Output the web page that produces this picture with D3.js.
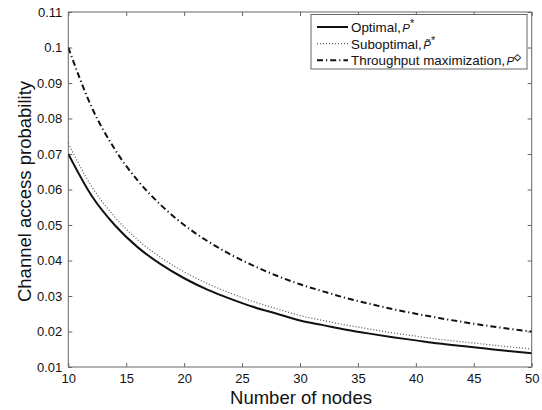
<!DOCTYPE html>
<html><head><meta charset="utf-8">
<script src="https://cdn.jsdelivr.net/npm/d3@7"></script>
<style>body{margin:0;background:#fff}svg{display:block}text{font-family:"Liberation Sans",Arial,Helvetica,sans-serif}</style>
</head><body><svg id="c" width="542" height="410"></svg>
<script>
const nodes = [10,12,14,16,18,20,22,24,26,28,30,32,34,36,38,40,42,44,46,48,50];
const optimal = [0.0700,0.0583,0.0500,0.0437,0.0389,0.0350,0.0318,0.0292,0.0269,0.0250,0.0231,0.0218,0.0205,0.0194,0.0184,0.0175,0.0166,0.0159,0.0152,0.0145,0.0139];
const suboptimal = [0.0730,0.0609,0.0523,0.0458,0.0408,0.0368,0.0335,0.0308,0.0284,0.0264,0.0245,0.0231,0.0218,0.0207,0.0196,0.0187,0.0178,0.0171,0.0164,0.0157,0.0151];
const throughput = [0.1000,0.0833,0.0714,0.0625,0.0556,0.0500,0.0455,0.0417,0.0385,0.0357,0.0333,0.0313,0.0294,0.0278,0.0263,0.0250,0.0238,0.0227,0.0217,0.0208,0.0200];
const xTicks = [10,15,20,25,30,35,40,45,50];
const yTicks = [0.01,0.02,0.03,0.04,0.05,0.06,0.07,0.08,0.09,0.1,0.11];
const xTitle = "Number of nodes";
const yTitle = "Channel access probability";

const L=68.3, R=531.7, T=12, B=367;
const svg = d3.select("#c");
const x = d3.scaleLinear().domain([10,50]).range([L,R]);
const y = d3.scaleLinear().domain([0.01,0.11]).range([B,T]);
const axisCol = "#666";
const tk = 4;

svg.append("rect").attr("x",L).attr("y",T).attr("width",R-L).attr("height",B-T)
  .attr("fill","none").attr("stroke",axisCol).attr("stroke-width",1);

const fmt = d => String(+d.toFixed(2));
const gx = svg.append("g").attr("transform",`translate(0,${B})`)
  .call(d3.axisBottom(x).tickValues(xTicks).tickSizeInner(-tk).tickSizeOuter(0).tickPadding(7).tickFormat(d3.format("d")));
const gxt = svg.append("g").attr("transform",`translate(0,${T})`)
  .call(d3.axisTop(x).tickValues(xTicks).tickSizeInner(-tk).tickSizeOuter(0).tickFormat(""));
const gy = svg.append("g").attr("transform",`translate(${L},0)`)
  .call(d3.axisLeft(y).tickValues(yTicks).tickSizeInner(-tk).tickSizeOuter(0).tickPadding(6).tickFormat(fmt));
const gyr = svg.append("g").attr("transform",`translate(${R},0)`)
  .call(d3.axisRight(y).tickValues(yTicks).tickSizeInner(-tk).tickSizeOuter(0).tickFormat(""));
[gx,gxt,gy,gyr].forEach(g=>{
  g.select(".domain").remove();
  g.selectAll(".tick line").attr("stroke",axisCol);
  g.selectAll("text").attr("fill","#111").attr("font-size","13px")
   .attr("font-family",'"Liberation Sans",Arial,sans-serif');
});

const line = d3.line().x((d,i)=>x(nodes[i])).y(d=>y(d)).curve(d3.curveMonotoneX);
svg.append("clipPath").attr("id","cp").append("rect").attr("x",L).attr("y",T).attr("width",R-L).attr("height",B-T);
const plot = svg.append("g").attr("clip-path","url(#cp)");
plot.append("path").datum(throughput).attr("d",line).attr("fill","none").attr("stroke","#111").attr("stroke-width",2).attr("stroke-dasharray","6,3,1.2,3");
plot.append("path").datum(suboptimal).attr("d",line).attr("fill","none").attr("stroke","#555").attr("stroke-width",1.2).attr("stroke-dasharray","1,2");
plot.append("path").datum(optimal).attr("d",line).attr("fill","none").attr("stroke","#111").attr("stroke-width",2);

svg.append("text").attr("x",(L+R)/2+1).attr("y",404).attr("text-anchor","middle").attr("font-size","18.5px").attr("fill","#111").text(xTitle);
svg.append("text").attr("transform",`translate(31,${(T+B)/2+2}) rotate(-90)`).attr("text-anchor","middle").attr("font-size","18.5px").attr("fill","#111").text(yTitle);

const lg = svg.append("g");
lg.append("rect").attr("x",311).attr("y",14.5).attr("width",216).attr("height",54.5).attr("fill","#fff").attr("stroke",axisCol).attr("stroke-width",1);
const items = [
  {name:"Optimal,", sup:"*", tilde:false, dash:null, w:2, col:"#111"},
  {name:"Suboptimal,", sup:"*", tilde:true, dash:"1,2", w:1.2, col:"#555"},
  {name:"Throughput maximization,", sup:"\u25C7", tilde:false, dash:"6,3,1.2,3", w:2, col:"#111"}
];
items.forEach((it,i)=>{
  const yy = 27 + i*16.6;
  lg.append("line").attr("x1",317).attr("x2",348).attr("y1",yy).attr("y2",yy)
    .attr("stroke",it.col).attr("stroke-width",it.w).attr("stroke-dasharray",it.dash);
  const t = lg.append("text").attr("x",351).attr("y",yy+5).attr("font-size","13.4px").attr("fill","#111");
  t.append("tspan").text(it.name);
  t.append("tspan").attr("dx",1.5).attr("font-size","11.5px").attr("font-style","italic").text(it.tilde? "P\u0303" : "P");
  t.append("tspan").attr("dy",-5).attr("font-size", i===2?"9px":"11px").attr("font-weight", i===2?"bold":"normal").text(it.sup);
});
</script></body></html>
